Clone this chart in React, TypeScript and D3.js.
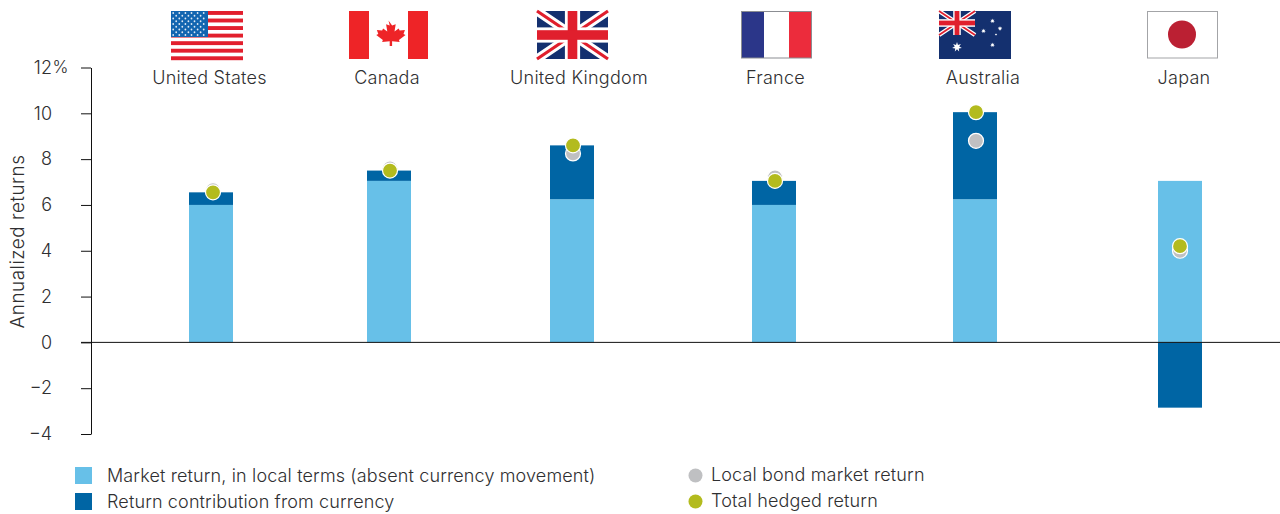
import React, { useEffect, useRef } from 'react';
import * as d3 from 'd3';

const countries = ['United States', 'Canada', 'United Kingdom', 'France', 'Australia', 'Japan'];
const marketReturn = [6.0, 7.05, 6.25, 6.0, 6.25, 7.05];
const currencyReturn = [0.55, 0.45, 2.35, 1.05, 3.8, -2.85];
const localBond = [6.65, 7.6, 8.25, 7.2, 8.8, 4.0];
const totalHedged = [6.55, 7.5, 8.6, 7.05, 10.05, 4.2];
const yTicks = [12, 10, 8, 6, 4, 2, 0, -2, -4];

const FONT = 'Inter, "Noto Sans", sans-serif';
const TEXT = '#2f2f31';
const LIGHT = '#67c0e8';
const DARK = '#0065a4';
const GREY = '#bfc0c2';
const OLIVE = '#b3bb1e';

// spacing of the columns is uneven in the original
const barCentre = d3.scaleOrdinal<string, number>().domain(countries).range([211, 389, 572, 774, 975, 1180]);
const dotCentre = d3.scaleOrdinal<string, number>().domain(countries).range([213, 390, 573, 775, 976, 1180]);
const labelCentre = d3.scaleOrdinal<string, number>().domain(countries).range([209.5, 387, 579, 775.5, 983, 1184]);
const y = d3.scaleLinear().domain([12, -4]).range([67.5, 434]);

const BAR_W = 44;

const UsFlag = () => (
  <g transform="translate(171,11)">
    {d3.range(7).map(i => (
      <rect key={i} x={0} y={i * 7.55} width={72} height={3.9} fill="#e21f2d" />
    ))}
    <rect x={0} y={0} width={37} height={26} fill="#1265b0" />
    {d3.range(9).map(r =>
      d3.range(r % 2 ? 5 : 6).map(c => (
        <circle key={`${r}-${c}`} cx={(r % 2 ? 5.2 : 2.2) + c * 6.1} cy={2 + r * 2.75} r={0.9} fill="#dfe9f4" />
      ))
    )}
  </g>
);

const CanadaFlag = () => (
  <g transform="translate(349,11)">
    <rect x={0} y={0} width={20} height={48} fill="#ee2427" />
    <rect x={59} y={0} width={20} height={48} fill="#ee2427" />
    <path
      transform="translate(39.5,0) scale(1.2,1) translate(-39.5,0)"
      d="M39.5 9.5l3 5 3-1.2-1 7.2 3.5-3 .8 2 4.4-.6-1.2 4.2 1.7 1-5.5 4.8.6 2.2-6.3-.8V35h-2v-4.7l-6.3.8.6-2.2-5.5-4.8 1.7-1-1.2-4.2 4.4.6.8-2 3.5 3-1-7.2 3 1.2z"
      fill="#ee2427"
    />
  </g>
);

const Union = ({ w, h }: { w: number; h: number }) => {
  const cx = w / 2;
  const cy = h / 2;
  const sw = h / 6;
  return (
    <g>
      <rect x={0} y={0} width={w} height={h} fill="#14306f" />
      <path d={`M0 0L${w} ${h}M${w} 0L0 ${h}`} stroke="#fff" strokeWidth={sw * 1.1} />
      <path d={`M0 0L${w} ${h}M${w} 0L0 ${h}`} stroke="#e01f2d" strokeWidth={sw * 0.4} />
      <rect x={cx - sw * 0.95} y={0} width={sw * 1.9} height={h} fill="#fff" />
      <rect x={0} y={cy - sw * 0.95} width={w} height={sw * 1.9} fill="#fff" />
      <rect x={cx - sw * 0.6} y={0} width={sw * 1.2} height={h} fill="#e01f2d" />
      <rect x={0} y={cy - sw * 0.6} width={w} height={sw * 1.2} fill="#e01f2d" />
    </g>
  );
};

const UkFlag = () => (
  <g transform="translate(537,11)">
    <Union w={71} h={48} />
  </g>
);

const FranceFlag = () => (
  <g transform="translate(741,11)">
    <rect x={0} y={0} width={23} height={47} fill="#2b3689" />
    <rect x={48} y={0} width={23} height={47} fill="#ec2c3c" />
    <rect x={0.5} y={0.5} width={70} height={46.5} fill="none" stroke="#8b8d92" strokeWidth={1} />
  </g>
);

const starPoints = (cx: number, cy: number, r: number, n = 7) =>
  d3
    .range(n * 2)
    .map(i => {
      const a = (i * Math.PI) / n - Math.PI / 2;
      const rad = i % 2 ? r * 0.45 : r;
      return `${cx + rad * Math.cos(a)},${cy + rad * Math.sin(a)}`;
    })
    .join(' ');

const AustraliaFlag = () => (
  <g transform="translate(939,11)">
    <rect x={0} y={0} width={72} height={48} fill="#14306f" />
    <Union w={36} h={24} />
    <polygon points={starPoints(18, 36, 5)} fill="#fff" />
    <polygon points={starPoints(53.5, 10, 2.4)} fill="#fff" />
    <polygon points={starPoints(61, 17.5, 2.4)} fill="#fff" />
    <polygon points={starPoints(44.5, 20, 2.4)} fill="#fff" />
    <polygon points={starPoints(57, 23.5, 1.3, 5)} fill="#fff" />
    <polygon points={starPoints(53.5, 34, 2.4)} fill="#fff" />
  </g>
);

const JapanFlag = () => (
  <g transform="translate(1147,11)">
    <rect x={0.5} y={0.5} width={70} height={46.5} fill="#fff" stroke="#a3a4a7" strokeWidth={1} />
    <circle cx={35} cy={23.5} r={14} fill="#bb2033" />
  </g>
);

const App = () => {
  const chartRef = useRef<SVGGElement>(null);

  useEffect(() => {
    const g = d3.select(chartRef.current);
    g.selectAll('*').remove();

    // bars
    const rows = countries.map((name, i) => ({
      name,
      market: marketReturn[i],
      currency: currencyReturn[i],
      local: localBond[i],
      total: totalHedged[i],
    }));

    g.selectAll('rect.market')
      .data(rows)
      .join('rect')
      .attr('class', 'market')
      .attr('x', d => barCentre(d.name) - BAR_W / 2)
      .attr('width', BAR_W)
      .attr('y', d => y(d.market))
      .attr('height', d => y(0) - y(d.market))
      .attr('fill', LIGHT);

    g.selectAll('rect.currency')
      .data(rows)
      .join('rect')
      .attr('class', 'currency')
      .attr('x', d => barCentre(d.name) - BAR_W / 2)
      .attr('width', BAR_W)
      .attr('y', d => (d.currency < 0 ? y(0) : y(d.market + d.currency)))
      .attr('height', d => (d.currency < 0 ? y(d.currency) - y(0) : y(d.market) - y(d.market + d.currency)))
      .attr('fill', DARK);

    // axis
    const axis = d3
      .axisLeft(y)
      .tickValues(yTicks)
      .tickSize(10)
      .tickSizeOuter(0)
      .tickPadding(0)
      .tickFormat(d => String(d).replace('-', '\u2212'));
    const axisG = g.append('g').attr('transform', 'translate(91,0)').call(axis);
    axisG.select('.domain').attr('stroke', '#111').attr('stroke-width', 1);
    axisG.selectAll('.tick line').attr('stroke', '#111').attr('stroke-width', 1);
    axisG
      .selectAll('.tick text')
      .attr('x', -39)
      .attr('font-family', FONT)
      .attr('font-weight', 300)
      .attr('font-size', 18)
      .attr('fill', TEXT);
    axisG
      .append('text')
      .attr('x', -38.5)
      .attr('y', y(12))
      .attr('dy', '0.32em')
      .attr('font-family', FONT)
      .attr('font-weight', 300)
      .attr('font-size', 17)
      .attr('fill', TEXT)
      .attr('text-anchor', 'start')
      .text('%');

    // zero line runs the whole width
    g.append('line')
      .attr('x1', 81)
      .attr('x2', 1280)
      .attr('y1', y(0))
      .attr('y2', y(0))
      .attr('stroke', '#111')
      .attr('stroke-width', 1);

    // dots: grey under olive
    g.selectAll('circle.local')
      .data(rows)
      .join('circle')
      .attr('class', 'local')
      .attr('cx', d => dotCentre(d.name))
      .attr('cy', d => y(d.local))
      .attr('r', 7.5)
      .attr('fill', GREY)
      .attr('stroke', '#fff')
      .attr('stroke-width', 1.2);

    g.selectAll('circle.total')
      .data(rows)
      .join('circle')
      .attr('class', 'total')
      .attr('cx', d => dotCentre(d.name))
      .attr('cy', d => y(d.total))
      .attr('r', 7.5)
      .attr('fill', OLIVE)
      .attr('stroke', '#fff')
      .attr('stroke-width', 1.2);

    // country labels
    g.selectAll('text.country')
      .data(countries)
      .join('text')
      .attr('class', 'country')
      .attr('x', d => labelCentre(d))
      .attr('y', 84)
      .attr('text-anchor', 'middle')
      .attr('font-family', FONT)
      .attr('font-weight', 300)
      .attr('font-size', 18)
      .attr('letter-spacing', 0.25)
      .attr('fill', TEXT)
      .text(d => d);
  }, []);

  const textProps = { fontFamily: FONT, fontWeight: 300, fontSize: 18, letterSpacing: 0.14, fill: TEXT };

  return (
    <svg width={1280} height={514} style={{ position: 'absolute', left: 0, top: 0, background: '#fff' }}>
      <UsFlag />
      <CanadaFlag />
      <UkFlag />
      <FranceFlag />
      <AustraliaFlag />
      <JapanFlag />
      <g ref={chartRef} />
      <text {...textProps} fontSize={19} letterSpacing={0.45} transform="translate(23.5,241.5) rotate(-90)" textAnchor="middle">
        Annualized returns
      </text>
      <rect x={75} y={467} width={17} height={17} fill={LIGHT} />
      <rect x={75} y={493} width={17} height={17} fill={DARK} />
      <text {...textProps} x={107} y={482}>
        Market return, in local terms (absent currency movement)
      </text>
      <text {...textProps} x={107} y={508}>
        Return contribution from currency
      </text>
      <circle cx={695.5} cy={475.5} r={7} fill={GREY} />
      <circle cx={695.5} cy={501.5} r={7} fill={OLIVE} />
      <text {...textProps} x={711} y={481}>
        Local bond market return
      </text>
      <text {...textProps} x={711} y={507}>
        Total hedged return
      </text>
    </svg>
  );
};

export default App;
